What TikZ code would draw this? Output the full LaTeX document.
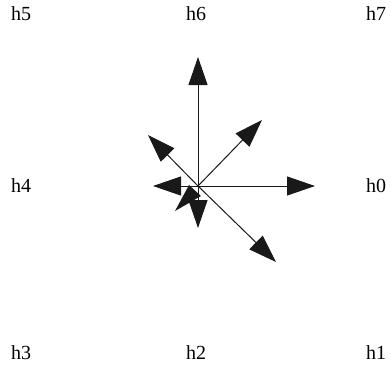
\documentclass[tikz,border=0pt]{standalone}
\usepackage{fontspec}
\setmainfont{Liberation Serif}
\usetikzlibrary{arrows.meta}
\begin{document}
\begin{tikzpicture}[x=1pt,y=-1pt,
  vec/.style={line width=1pt,draw=black!90,-{Triangle[length=28pt,width=19pt]}},
  lab/.style={font=\fontsize{20}{20}\selectfont,inner sep=0pt}]
\useasboundingbox (0,0) rectangle (391,373);

\coordinate (o) at (198,186);
\coordinate (t0) at (315,186);
\coordinate (t1) at (276,262);
\coordinate (t2) at (198,228);
\coordinate (t4) at (153,186);
\coordinate (t5) at (148,135);
\coordinate (t6) at (198,57);
\coordinate (t7) at (262,120);

\draw[vec] (o) -- (t0);
\draw[vec] (o) -- (t1);
\draw[vec] (o) -- (t4);
\draw[vec] (o) -- (t5);
\draw[vec] (o) -- (t6);
\draw[vec] (o) -- (t7);
\draw[vec] (o) -- (t2);
\fill[black!90] (189,185) -- (175,211) -- (201,196) -- cycle;

\node[lab] (h0) at (376,186) {h0};
\node[lab] (h1) at (376,353) {h1};
\node[lab] (h2) at (196,353) {h2};
\node[lab] (h3) at (21,353) {h3};
\node[lab] (h4) at (21,186) {h4};
\node[lab] (h5) at (21,14) {h5};
\node[lab] (h6) at (196,14) {h6};
\node[lab] (h7) at (376,14) {h7};
\end{tikzpicture}
\end{document}
